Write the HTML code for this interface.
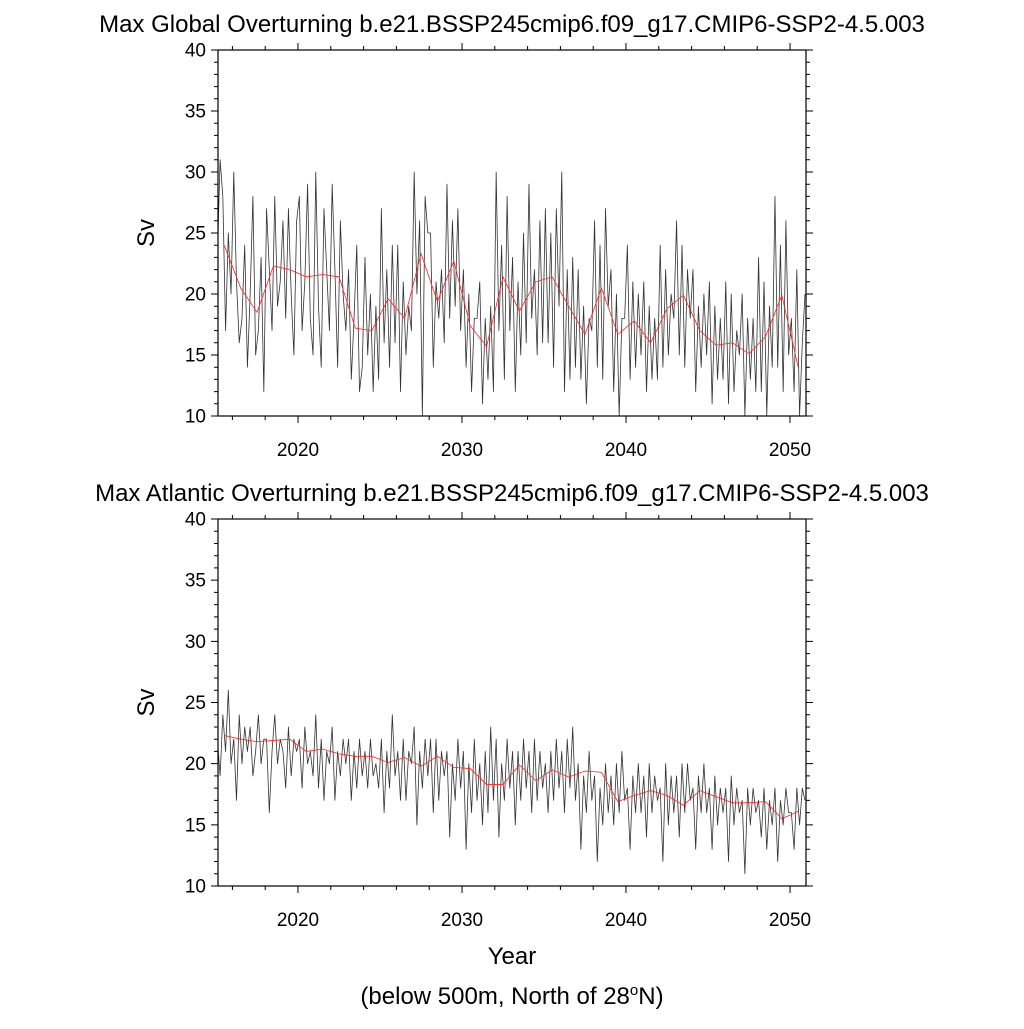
<!DOCTYPE html>
<html><head><meta charset="utf-8"><style>
body{margin:0;background:#fff}
svg text{font-family:"Liberation Sans",Helvetica,sans-serif;fill:#000}
</style></head><body>
<svg id="c" width="1024" height="1024" xmlns="http://www.w3.org/2000/svg"></svg>
<script>
const xTickYears=[2020,2030,2040,2050];
const yTickVals=[10,15,20,25,30,35,40];
const annualYears=[2015,2016,2017,2018,2019,2020,2021,2022,2023,2024,2025,2026,2027,2028,2029,2030,2031,2032,2033,2034,2035,2036,2037,2038,2039,2040,2041,2042,2043,2044,2045,2046,2047,2048,2049,2050];
const globalAnnual=[24,20.5,18.5,22.3,22,21.4,21.6,21.4,17.2,17,19.6,18,23.3,19.4,22.7,17.4,15.7,21.4,18.6,21,21.4,19,16.7,20.5,16.7,17.8,16,18.8,19.9,17,15.8,16,15.1,16.5,19.9,14];
const atlanticAnnual=[22.3,22,21.8,21.9,22,21,21.2,20.8,20.6,20.6,20.1,20.5,19.8,20.6,19.7,19.6,18.3,18.3,19.9,18.6,19.5,18.9,19.4,19.3,16.9,17.4,17.8,17.4,16.6,17.8,17.3,16.8,16.8,16.9,15.5,16.1];
const globalSub=[23,31,28,17,25,20, 30,21,16,18,24,14, 20,28,15,17,23,12, 27,22,17,28,19,21, 26,18,27,20,15,26, 28,17,21,29,18,15, 30,19,14,27,22,17, 29,22,14,26,20,17, 22,13,18,24,12,14, 23,15,20,12,19,13, 27,16,22,14,24,16, 24,12,21,15,19,17, 30,20,26,10,28,25, 25,14,21,18,22,16, 29,18,26,19,27,17, 22,14,20,12,18,18, 21,11,18,13,19,12, 30,17,24,13,28,17, 23,12,21,15,25,16, 29,18,22,15,26,16, 27,16,25,14,27,19, 30,12,22,13,23,14, 22,13,19,11,18,17, 26,14,24,13,27,19, 22,12,20,10,18,18, 24,13,21,14,20,15, 21,12,19,13,18,13, 24,14,22,15,20,18, 26,15,24,14,22,18, 22,12,19,14,20,15, 21,11,19,13,18,13, 21,11,20,12,17,15, 20,10,18,13,18,12, 23,12,21,10,19,14, 28,14,24,12,26,15, 18,12,22,10,16,20];
const atlanticSub=[22,19,24,21,26,20, 22,17,24,20,23,21, 23,19,21,24,20,22, 22,16,21,24,20,22, 21,18,23,19,22,21, 22,18,23,20,21,19, 24,18,22,17,21,20, 23,17,21,19,22,20, 22,17,21,18,22,19, 21,18,22,19,20,18, 22,16,21,18,24,19, 21,17,22,17,21,20, 23,15,21,18,22,19, 22,16,22,17,21,19, 21,14,20,17,22,18, 21,13,20,16,22,17, 20,15,21,16,23,17, 22,14,20,17,22,18, 21,15,21,17,22,18, 21,16,22,17,21,18, 20,16,21,17,22,18, 21,16,22,18,23,17, 20,13,19,16,21,17, 19,12,18,15,20,16, 19,15,20,16,21,17, 18,13,19,16,20,16, 19,14,20,16,19,17, 18,12,20,15,19,16, 19,14,20,16,20,17, 18,13,19,16,20,16, 18,13,19,15,18,16, 18,12,19,15,18,16, 17,11,18,15,18,16, 17,14,18,13,17,15, 18,12,17,15,18,16, 16,13,18,15,18,17];

const NS="http://www.w3.org/2000/svg";
const svg=document.getElementById('c');
const L=218,R=806;
function xs(yr){return 298+(yr-2020)*16.4;}
function mk(tag,attrs,parent){const e=document.createElementNS(NS,tag);for(const k in attrs)e.setAttribute(k,attrs[k]);(parent||svg).appendChild(e);return e;}

function panel(key,top,bot,title,sub,ann){
  const g=mk('g',{});
  
  
  const ys=v=>bot-(v-10)*(bot-top)/30;
  const cid='clip-'+key;
  const cp=mk('clipPath',{id:cid},g);mk('rect',{x:L,y:top,width:R-L,height:bot-top},cp);
  let d='';
  sub.forEach((v,i)=>{const t=2015+Math.floor(i/6)+((i%6)+0.5)/6;d+=(i?'L':'M')+xs(t).toFixed(2)+' '+ys(v).toFixed(2);});
  const bl=mk('path',{d:d,fill:'none',stroke:'#333','stroke-width':0.8,'stroke-linejoin':'round','clip-path':'url(#'+cid+')'},g);
  
  
  let d2='';
  ann.forEach((v,i)=>{d2+=(i?'L':'M')+xs(annualYears[i]+0.5).toFixed(2)+' '+ys(v).toFixed(2);});
  const rl=mk('path',{d:d2,fill:'none',stroke:'#f22','stroke-width':0.8,'clip-path':'url(#'+cid+')'},g);
  
  
  const fr=mk('rect',{x:L,y:top,width:R-L,height:bot-top,fill:'none',stroke:'#000','stroke-width':1.2},g);
  
  
  let tk='';
  for(let v=10;v<=40;v++){const y=ys(v);const len=(v%5===0)?7:4;tk+=`M${L} ${y}h${-len}M${R} ${y}h${len}`;}
  for(let yr=2016;yr<=2050;yr+=2){const x=xs(yr);if(x<L||x>R)continue;const len=(yr%10===0)?7:4;tk+=`M${x} ${bot}v${len}M${x} ${top}v${-len}`;}
  mk('path',{d:tk,stroke:'#000','stroke-width':1,fill:'none'},g);
  yTickVals.forEach(v=>{const t=mk('text',{x:L-12,y:ys(v)+6.5,'text-anchor':'end','font-size':19},g);t.textContent=v;
    
    });
  xTickYears.forEach(v=>{const t=mk('text',{x:xs(v),y:bot+40,'text-anchor':'middle','font-size':19},g);t.textContent=v;
    
    });
  const tt=mk('text',{x:512,y:top-18,'text-anchor':'middle','font-size':24},g);tt.textContent=title;
  
  
  const yl=mk('text',{x:0,y:0,'text-anchor':'middle','font-size':24,transform:`translate(154,${(top+bot)/2}) rotate(-90)`},g);yl.textContent='Sv';
  
  
}
panel('global',50,416,'Max Global Overturning b.e21.BSSP245cmip6.f09_g17.CMIP6-SSP2-4.5.003',globalSub,globalAnnual);
panel('atlantic',519,886,'Max Atlantic Overturning b.e21.BSSP245cmip6.f09_g17.CMIP6-SSP2-4.5.003',atlanticSub,atlanticAnnual);
const xl=mk('text',{x:512,y:964,'text-anchor':'middle','font-size':24});xl.textContent='Year';


const cap=mk('text',{x:512,y:1004,'text-anchor':'middle','font-size':24});
cap.innerHTML='(below 500m, North of 28<tspan dy="-9" font-size="15">o</tspan><tspan dy="9">N)</tspan>';


</script>
</body></html>
